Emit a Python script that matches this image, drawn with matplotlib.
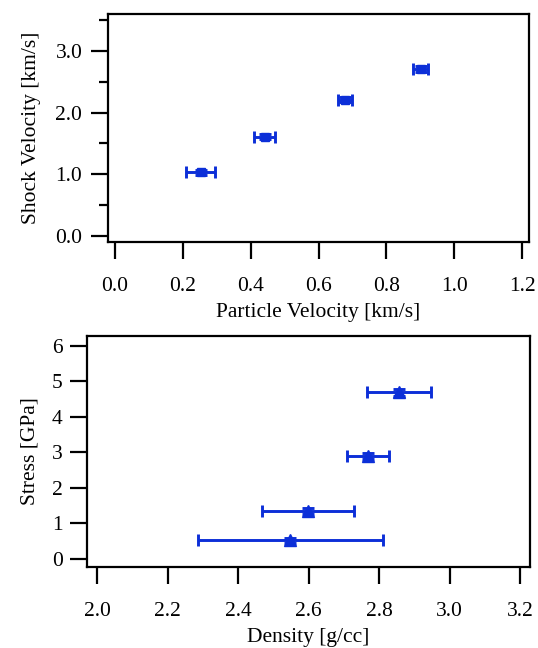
import matplotlib
matplotlib.use("Agg")
import matplotlib.pyplot as plt
from matplotlib.ticker import MultipleLocator

plt.rcParams['font.family'] = ['Liberation Serif', 'DejaVu Serif']

# Top panel: Us-up data
particle_velocity = [0.253, 0.441, 0.678, 0.901]
particle_velocity_err = [0.043, 0.031, 0.021, 0.021]
shock_velocity = [1.03, 1.607, 2.21, 2.706]
shock_velocity_err = [0.04, 0.04, 0.04, 0.05]

# Bottom panel: stress-density data
density = [2.548, 2.599, 2.769, 2.856]
density_err = [0.262, 0.13, 0.06, 0.09]
stress = [0.515, 1.34, 2.90, 4.69]
stress_err = [0.08, 0.08, 0.08, 0.1]

top_xticks = [0.0, 0.2, 0.4, 0.6, 0.8, 1.0, 1.2]
top_yticks = [0.0, 1.0, 2.0, 3.0]
bot_xticks = [2.0, 2.2, 2.4, 2.6, 2.8, 3.0, 3.2]
bot_yticks = [0, 1, 2, 3, 4, 5, 6]

blue = '#0c2fd8'
W, H = 538, 648
fig = plt.figure(figsize=(W / 100, H / 100), dpi=100)

def rect(l, t, r, b):
    return [l / W, 1 - b / H, (r - l) / W, (b - t) / H]

ax1 = fig.add_axes(rect(108, 14, 529, 242))
ax2 = fig.add_axes(rect(87, 336, 530, 567))

fs = 15.5
for ax in (ax1, ax2):
    for s in ax.spines.values():
        s.set_linewidth(1.6)
    ax.tick_params(which='major', length=12.5, width=1.6, labelsize=fs)
    ax.tick_params(which='minor', length=6.5, width=1.6)

# Top
ax1.errorbar(particle_velocity, shock_velocity, xerr=particle_velocity_err,
             yerr=shock_velocity_err, fmt='s', color=blue, ms=6,
             elinewidth=2.1, capsize=4.5, capthick=2.1)
ax1.set_xlim(-0.0206, 1.2206)
ax1.set_ylim(-0.102, 3.6)
ax1.set_xticks(top_xticks)
ax1.set_xticklabels([f"{v:.1f}" for v in top_xticks])
ax1.set_yticks(top_yticks)
ax1.set_yticklabels([f"{v:.1f}" for v in top_yticks])
ax1.yaxis.set_minor_locator(MultipleLocator(0.5))
ax1.tick_params(axis='x', pad=12.5)
ax1.tick_params(axis='y', pad=6)
ax1.set_xlabel('Particle Velocity [km/s]', fontsize=fs, labelpad=5)
ax1.set_ylabel('Shock Velocity [km/s]', fontsize=fs, labelpad=10)

# Bottom
ax2.errorbar(density, stress, xerr=density_err, yerr=stress_err,
             fmt='^', color=blue, ms=8.5, elinewidth=2.1, capsize=4.5,
             capthick=2.1)
ax2.set_xlim(1.9717, 3.228)
ax2.set_ylim(-0.233, 6.28)
ax2.set_xticks(bot_xticks)
ax2.set_xticklabels([f"{v:.1f}" for v in bot_xticks])
ax2.set_yticks(bot_yticks)
ax2.set_yticklabels([str(v) for v in bot_yticks])
ax2.tick_params(axis='x', pad=12.5)
ax2.tick_params(axis='y', pad=5)
ax2.set_xlabel('Density [g/cc]', fontsize=fs, labelpad=5)
ax2.set_ylabel('Stress [GPa]', fontsize=fs, labelpad=9)

fig.savefig('out.png', dpi=100)
